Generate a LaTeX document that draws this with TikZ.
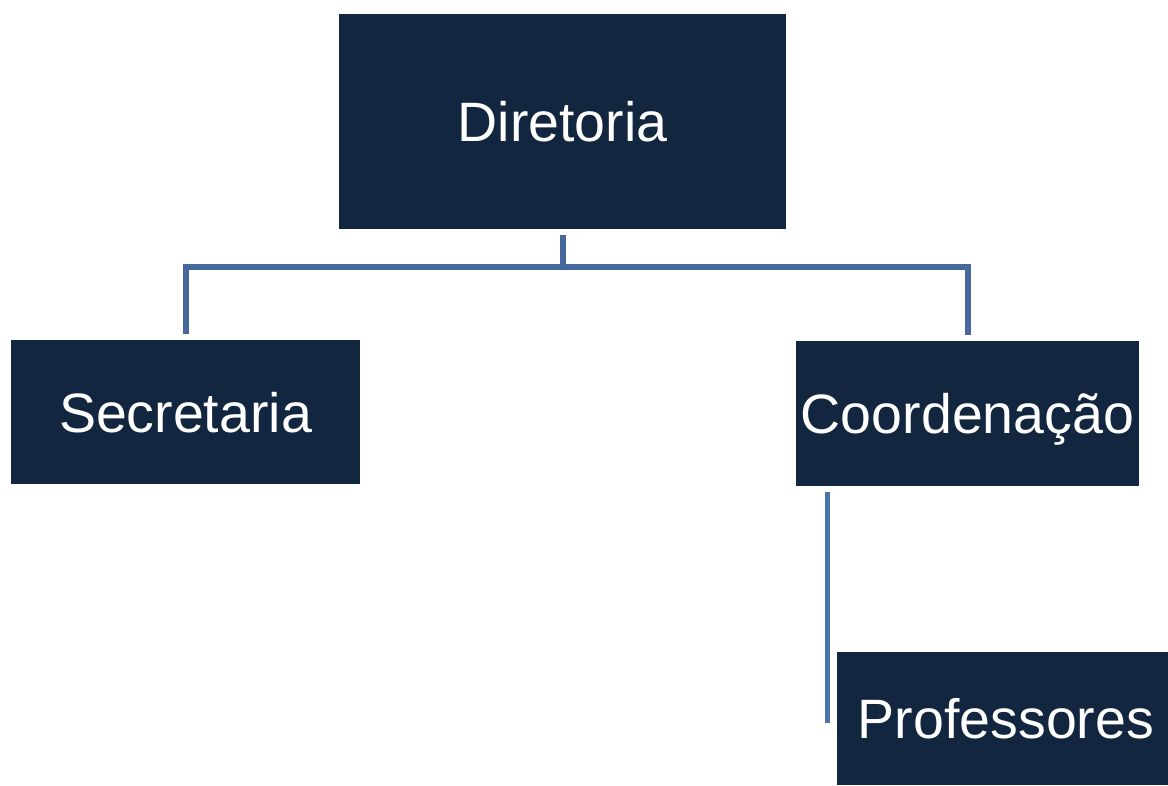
\documentclass[tikz,border=0pt]{standalone}
\usepackage{fontspec}
\setmainfont{Liberation Sans}
\definecolor{boxnavy}{HTML}{13263F}
\definecolor{linkblue}{HTML}{46689C}
\definecolor{linkblue2}{HTML}{4B74AC}
\begin{document}
\begin{tikzpicture}[x=1pt,y=-1pt,
  orgbox/.style={rectangle,fill=boxnavy,draw=none,inner sep=0pt,text=white,
    font=\fontsize{55.5}{60}\selectfont,text height=40pt,text depth=0pt},
  conn/.style={draw=linkblue,line width=6pt},
  conn2/.style={draw=linkblue2,line width=5pt}]
\useasboundingbox (0,0) rectangle (1168,785);
\node[orgbox,minimum width=447pt,minimum height=215pt] (dir) at (562.5,121.5) {Diretoria};
\node[orgbox,minimum width=349pt,minimum height=144pt] (sec) at (185.5,412) {Secretaria};
\node[orgbox,minimum width=343pt,minimum height=145pt] (coo) at (967.5,413.5) {Coordenação};
\node[orgbox,minimum width=338pt,minimum height=133pt] (pro) at (1006,718.5) {Professores};
\draw[conn] ([yshift=-6pt]dir.south) -- ++(0,32) coordinate (j);
\draw[conn] ([yshift=6pt]sec.north) |- (j) -| ([yshift=6pt]coo.north);
\draw[conn2] ([xshift=31.5pt,yshift=-6pt]coo.south west) -- ++(0,231) coordinate (pend);
\end{tikzpicture}
\end{document}
